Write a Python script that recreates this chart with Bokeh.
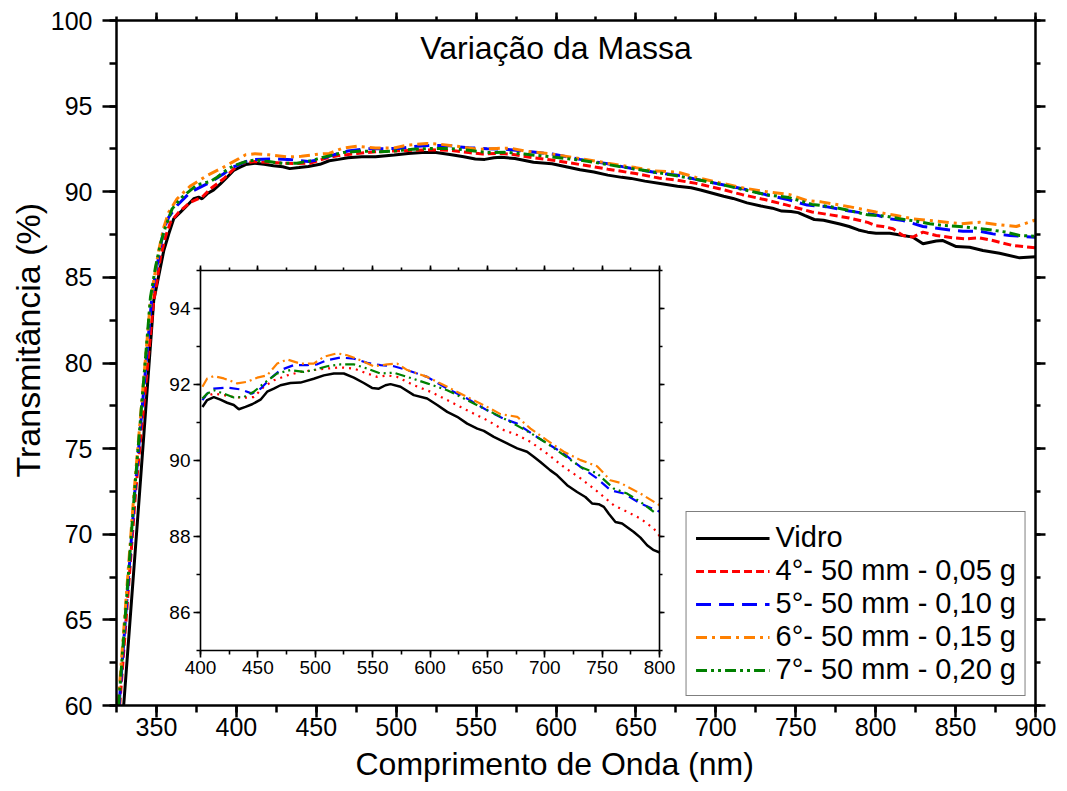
from bokeh.plotting import figure
from bokeh.models import (Range1d, LinearAxis, SingleIntervalTicker, Legend, LegendItem,
                          Label, Title)
from bokeh.embed import file_html
from bokeh.resources import INLINE

FONT = "Liberation Sans"

# ---------------- data ----------------
series_labels = ["Vidro", "4°- 50 mm - 0,05 g", "5°- 50 mm - 0,10 g",
                 "6°- 50 mm - 0,15 g", "7°- 50 mm - 0,20 g"]

vidro_nm = [329.5, 339.5, 348.3, 350.4, 352.5, 354.6, 357.7, 360.8, 365.0, 369.2, 373.3, 376.4, 378.5, 381.7, 385.8, 390.0, 394.2, 398.3,
            401.7, 405.8, 411.6, 417.4, 423.2, 429.0, 433.4, 439.2, 445.0, 452.3, 458.1, 463.9, 469.7, 478.4, 487.1, 498.7, 507.5, 516.2, 524.9, 533.6,
            542.3, 549.5, 555.4, 561.2, 565.6, 574.3, 585.9, 597.5, 606.3, 615.0, 623.7, 632.4, 641.2, 646.9, 655.6, 667.2, 676.0, 684.6, 690.4, 696.2,
            704.9, 710.8, 719.5, 728.2, 735.4, 741.2, 747.0, 751.5, 755.8, 761.6, 767.4, 777.6, 783.4, 789.2, 795.0, 800.2,
            808.8, 817.1, 823.3, 829.6, 837.9, 842.1, 850.4, 858.8, 867.1, 877.5, 890.0, 900.0]
vidro_t = [60.0, 72.5, 83.65, 84.62, 85.6, 86.57, 87.54, 88.42, 88.81, 89.2, 89.59, 89.68, 89.59, 89.88, 90.11, 90.46, 90.85, 91.24,
           91.41, 91.59, 91.67, 91.6, 91.52, 91.46, 91.35, 91.41, 91.48, 91.6, 91.81, 91.89, 91.98, 92.04, 92.05, 92.15, 92.24, 92.29, 92.29, 92.18,
           92.04, 91.91, 91.89, 91.98, 92.01, 91.94, 91.72, 91.63, 91.46, 91.28, 91.15, 90.97, 90.84, 90.78, 90.62, 90.45, 90.32, 90.23, 90.1, 89.96,
           89.74, 89.61, 89.35, 89.17, 89.04, 88.87, 88.85, 88.78, 88.6, 88.38, 88.34, 88.12, 87.97, 87.77, 87.64, 87.58,
           87.58, 87.45, 87.35, 86.96, 87.12, 87.15, 86.8, 86.76, 86.57, 86.41, 86.14, 86.2]

s4_nm = [327.0, 337.0, 348.3, 350.4, 352.5, 355.6, 358.75, 364.0, 371.25, 378.5, 383.75, 392.1, 398.0,
         402.9, 411.6, 420.3, 429.0, 437.8, 446.5, 455.2, 463.9, 475.5, 487.1, 498.7, 510.4, 522.0, 533.6, 545.3, 554.0, 562.7, 571.4,
         585.9, 600.4, 615.0, 632.4, 649.8, 664.3, 676.0, 687.6, 702.1, 716.6, 731.2, 742.8, 751.5, 760.2, 771.8, 783.4, 795.0, 800.2,
         804.6, 810.8, 817.1, 823.3, 829.6, 837.9, 848.3, 856.7, 865.0, 873.3, 885.8, 900.0]
s4_t = [60.0, 72.5, 83.65, 84.82, 86.18, 87.35, 88.22, 88.81, 89.39, 89.68, 90.17, 90.76, 91.3,
        91.67, 91.76, 91.72, 91.67, 91.65, 91.67, 91.94, 92.11, 92.24, 92.33, 92.38, 92.42, 92.45, 92.42, 92.29, 92.2, 92.24, 92.2,
        91.98, 91.81, 91.59, 91.32, 91.06, 90.8, 90.67, 90.49, 90.18, 89.83, 89.53, 89.26, 89.04, 88.82, 88.65, 88.47, 88.21, 88.01,
        87.97, 87.84, 87.45, 87.35, 87.64, 87.45, 87.31, 87.25, 87.31, 87.15, 86.86, 86.73]

s5_nm = [326.6, 336.5, 347.3, 349.4, 352.5, 354.6, 357.7, 362.9, 371.25, 377.5, 383.75, 392.1, 397.0,
         401.7, 405.8, 411.6, 423.2, 434.9, 445.0, 452.3, 461.0, 469.7, 481.3, 493.0, 501.7, 510.4, 522.0, 533.6, 545.3, 556.9, 568.5,
         580.2, 597.5, 615.0, 632.4, 649.8, 664.3, 676.0, 690.5, 702.1, 716.6, 731.2, 745.6, 757.2, 768.9, 783.4, 800.2,
         808.8, 817.1, 829.6, 835.8, 846.3, 854.6, 865.0, 873.3, 883.8, 892.1, 900.0]
s5_t = [60.0, 72.5, 84.04, 85.2, 86.76, 87.83, 88.52, 89.2, 89.98, 90.27, 90.56, 91.05, 91.4,
        91.59, 91.76, 91.89, 91.92, 91.87, 91.76, 91.89, 92.16, 92.38, 92.51, 92.51, 92.53, 92.64, 92.71, 92.68, 92.57, 92.51, 92.48,
        92.38, 92.2, 91.89, 91.63, 91.32, 91.1, 90.97, 90.67, 90.45, 90.18, 89.83, 89.53, 89.22, 89.13, 88.87, 88.65,
        88.42, 88.32, 87.97, 87.9, 87.77, 87.7, 87.7, 87.54, 87.45, 87.39, 87.35]

s6_nm = [326.0, 336.0, 346.25, 348.3, 351.4, 354.6, 357.7, 362.9, 371.25, 381.7, 392.1, 397.0,
         401.7, 405.8, 411.6, 420.3, 432.0, 440.7, 449.4, 458.1, 466.8, 475.5, 487.1, 498.7, 507.5, 519.1, 527.8, 539.4, 551.0, 562.7, 571.4,
         580.2, 597.5, 615.0, 632.4, 649.8, 661.4, 676.0, 687.6, 702.1, 716.6, 731.2, 745.6, 757.2, 765.9, 783.4, 800.2,
         813.0, 823.3, 833.8, 844.2, 853.6, 865.0, 875.4, 888.0, 900.0]
s6_t = [60.0, 72.5, 83.65, 84.8, 86.57, 87.93, 88.81, 89.59, 90.34, 90.95, 91.44, 91.7,
        91.94, 92.16, 92.22, 92.16, 92.03, 92.07, 92.18, 92.24, 92.55, 92.66, 92.55, 92.55, 92.73, 92.82, 92.77, 92.64, 92.48, 92.53, 92.55,
        92.38, 92.2, 91.94, 91.67, 91.41, 91.22, 91.15, 90.84, 90.53, 90.23, 90.01, 89.85, 89.48, 89.41, 89.13, 88.82,
        88.61, 88.42, 88.32, 88.22, 88.13, 88.22, 88.09, 87.97, 88.35]

s7_nm = [326.3, 336.3, 346.25, 349.4, 352.5, 355.6, 359.8, 366.0, 375.4, 383.75, 388.0, 394.2, 398.0,
         401.7, 405.8, 411.6, 420.3, 429.0, 437.8, 446.5, 455.2, 466.8, 478.4, 490.0, 498.7, 510.4, 522.0, 533.6, 545.3, 556.9, 568.5,
         580.2, 597.5, 615.0, 632.4, 644.0, 655.6, 673.0, 690.5, 702.1, 716.6, 731.2, 745.6, 760.2, 771.8, 783.4, 795.0,
         806.7, 815.0, 825.4, 833.8, 842.1, 852.5, 860.8, 871.3, 881.7, 890.0, 900.0]
s7_t = [60.0, 72.5, 83.84, 85.6, 86.96, 87.93, 89.0, 89.68, 90.4, 90.6, 90.85, 91.3, 91.5,
        91.63, 91.76, 91.85, 91.76, 91.66, 91.67, 91.81, 92.03, 92.29, 92.38, 92.33, 92.38, 92.48, 92.53, 92.53, 92.42, 92.29, 92.31,
        92.2, 92.03, 91.85, 91.59, 91.41, 91.24, 90.97, 90.67, 90.45, 90.14, 89.83, 89.66, 89.26, 89.13, 88.91, 88.65,
        88.57, 88.42, 88.28, 88.13, 88.03, 87.97, 87.9, 87.78, 87.64, 87.45, 87.4]

main_x_range = (325, 900)
main_y_range = (60, 100)
inset_x_range = (400, 800)
inset_y_range = (85, 95)

# ---------------- styles / layout ----------------
colors = ["black", "#FF0000", "#0000FF", "#FF8000", "#008000"]
main_dash = ["solid", "8 4", "15 8", "11 5 3 5", "11 4 3 4 3 4"]
inset_dash = ["solid", "2 5", "10 6", "10 4 2 4", "10 4 2 4 2 4"]
main_width = [3, 3, 3, 3, 3]
inset_width = [2.5, 2.2, 2.2, 2.2, 2.2]

W, H = 1060, 791
FRAME_L, FRAME_R, FRAME_T, FRAME_B = 116, 1035, 20, 705
INSET_L, INSET_R, INSET_T, INSET_B = 200, 659, 270, 650

p = figure(width=W, height=H, x_range=Range1d(*main_x_range), y_range=Range1d(*main_y_range),
           output_backend="svg", toolbar_location=None,
           min_border_left=FRAME_L, min_border_right=W - FRAME_R,
           min_border_top=FRAME_T, min_border_bottom=H - FRAME_B)
p.xgrid.grid_line_color = None
p.ygrid.grid_line_color = None
p.outline_line_color = None
p.background_fill_color = "white"
p.border_fill_color = "white"

# extra ranges for the inset, placed so that the inset box sits at its pixel position
sx = (INSET_R - INSET_L) / (inset_x_range[1] - inset_x_range[0])
sy = (INSET_B - INSET_T) / (inset_y_range[1] - inset_y_range[0])
p.extra_x_ranges = {"ix": Range1d(inset_x_range[0] - (INSET_L - FRAME_L) / sx,
                                  inset_x_range[1] + (FRAME_R - INSET_R) / sx)}
p.extra_y_ranges = {"iy": Range1d(inset_y_range[0] - (FRAME_B - INSET_B) / sy,
                                  inset_y_range[1] + (INSET_T - FRAME_T) / sy)}


def style_axis(ax, major_out, minor_out, lw, fsize, standoff, labels=True):
    ax.axis_line_width = lw
    ax.axis_line_color = "black"
    ax.major_tick_line_width = lw
    ax.minor_tick_line_width = lw
    ax.major_tick_out = major_out
    ax.major_tick_in = 0
    ax.minor_tick_out = minor_out
    ax.minor_tick_in = 0
    ax.major_label_text_font = FONT
    if labels:
        ax.major_label_text_color = "black"
        ax.major_label_text_font_size = fsize
        ax.major_label_standoff = standoff
    else:
        ax.major_label_text_color = None
        ax.major_label_text_font_size = "1px"
        ax.major_label_standoff = 0


# main axes
p.xaxis.ticker = SingleIntervalTicker(interval=50, num_minor_ticks=2)
p.yaxis.ticker = SingleIntervalTicker(interval=5, num_minor_ticks=2)
style_axis(p.xaxis[0], 12, 7, 2.5, "25px", 0)
style_axis(p.yaxis[0], 14, 7, 2.5, "25px", 10)
top_ax = LinearAxis(ticker=SingleIntervalTicker(interval=50, num_minor_ticks=2))
style_axis(top_ax, 8, 4, 2.5, "1px", 0, labels=False)
p.add_layout(top_ax, "above")
right_ax = LinearAxis(ticker=SingleIntervalTicker(interval=5, num_minor_ticks=2))
style_axis(right_ax, 10, 5, 2.5, "1px", 0, labels=False)
p.add_layout(right_ax, "right")

p.add_layout(Title(text="Transmitância (%)", align="left", offset=228, standoff=2,
                   text_font=FONT, text_font_size="34px", text_font_style="normal",
                   text_color="black"), "left")
p.add_layout(Title(text="Comprimento de Onda (nm)", align="left", offset=239, standoff=10,
                   text_font=FONT, text_font_size="32px", text_font_style="normal",
                   text_color="black"), "below")

# inset axes (fixed inside the main frame)
ib = LinearAxis(x_range_name="ix", y_range_name="iy", fixed_location=inset_y_range[0],
                bounds=inset_x_range, ticker=SingleIntervalTicker(interval=50, num_minor_ticks=2))
style_axis(ib, 7, 4, 1.6, "19px", 3)
p.add_layout(ib, "below")
il = LinearAxis(x_range_name="ix", y_range_name="iy", fixed_location=inset_x_range[0],
                bounds=inset_y_range, ticker=SingleIntervalTicker(interval=2, num_minor_ticks=2))
style_axis(il, 7, 4, 1.6, "19px", 3)
p.add_layout(il, "left")
it = LinearAxis(x_range_name="ix", y_range_name="iy", fixed_location=inset_y_range[1],
                bounds=inset_x_range, ticker=SingleIntervalTicker(interval=50, num_minor_ticks=2))
style_axis(it, 5, 3, 1.6, "1px", 0, labels=False)
p.add_layout(it, "above")
ir = LinearAxis(x_range_name="ix", y_range_name="iy", fixed_location=inset_x_range[1],
                bounds=inset_y_range, ticker=SingleIntervalTicker(interval=2, num_minor_ticks=2))
style_axis(ir, 5, 3, 1.6, "1px", 0, labels=False)
p.add_layout(ir, "right")

# lines
all_nm = [vidro_nm, s4_nm, s5_nm, s6_nm, s7_nm]
all_t = [vidro_t, s4_t, s5_t, s6_t, s7_t]
items = []
for i, lab in enumerate(series_labels):
    r = p.line(all_nm[i], all_t[i], line_color=colors[i], line_width=main_width[i],
               line_dash=main_dash[i])
    items.append(LegendItem(label=lab, renderers=[r]))

for i in range(len(series_labels)):
    keep = [k for k, x in enumerate(all_nm[i]) if inset_x_range[0] <= x <= inset_x_range[1] + 0.5]
    xs = [all_nm[i][k] for k in keep]
    ys = [all_t[i][k] for k in keep]
    p.line(xs, ys, line_color=colors[i], line_width=inset_width[i], line_dash=inset_dash[i],
           x_range_name="ix", y_range_name="iy")

legend = Legend(items=items, location="bottom_right", margin=9, padding=9, spacing=0,
                glyph_width=74, glyph_height=32, label_height=32, label_standoff=6,
                label_text_font=FONT, label_text_font_size="29px", label_text_color="black",
                border_line_color="black", border_line_width=1.2, background_fill_color="white",
                background_fill_alpha=1.0)
p.add_layout(legend)

p.add_layout(Label(x=600, y=99.42, text="Variação da Massa", text_align="center",
                   text_baseline="top", text_font=FONT, text_font_size="32px",
                   text_color="black"))

open("out.html", "w").write(file_html(p, INLINE))
